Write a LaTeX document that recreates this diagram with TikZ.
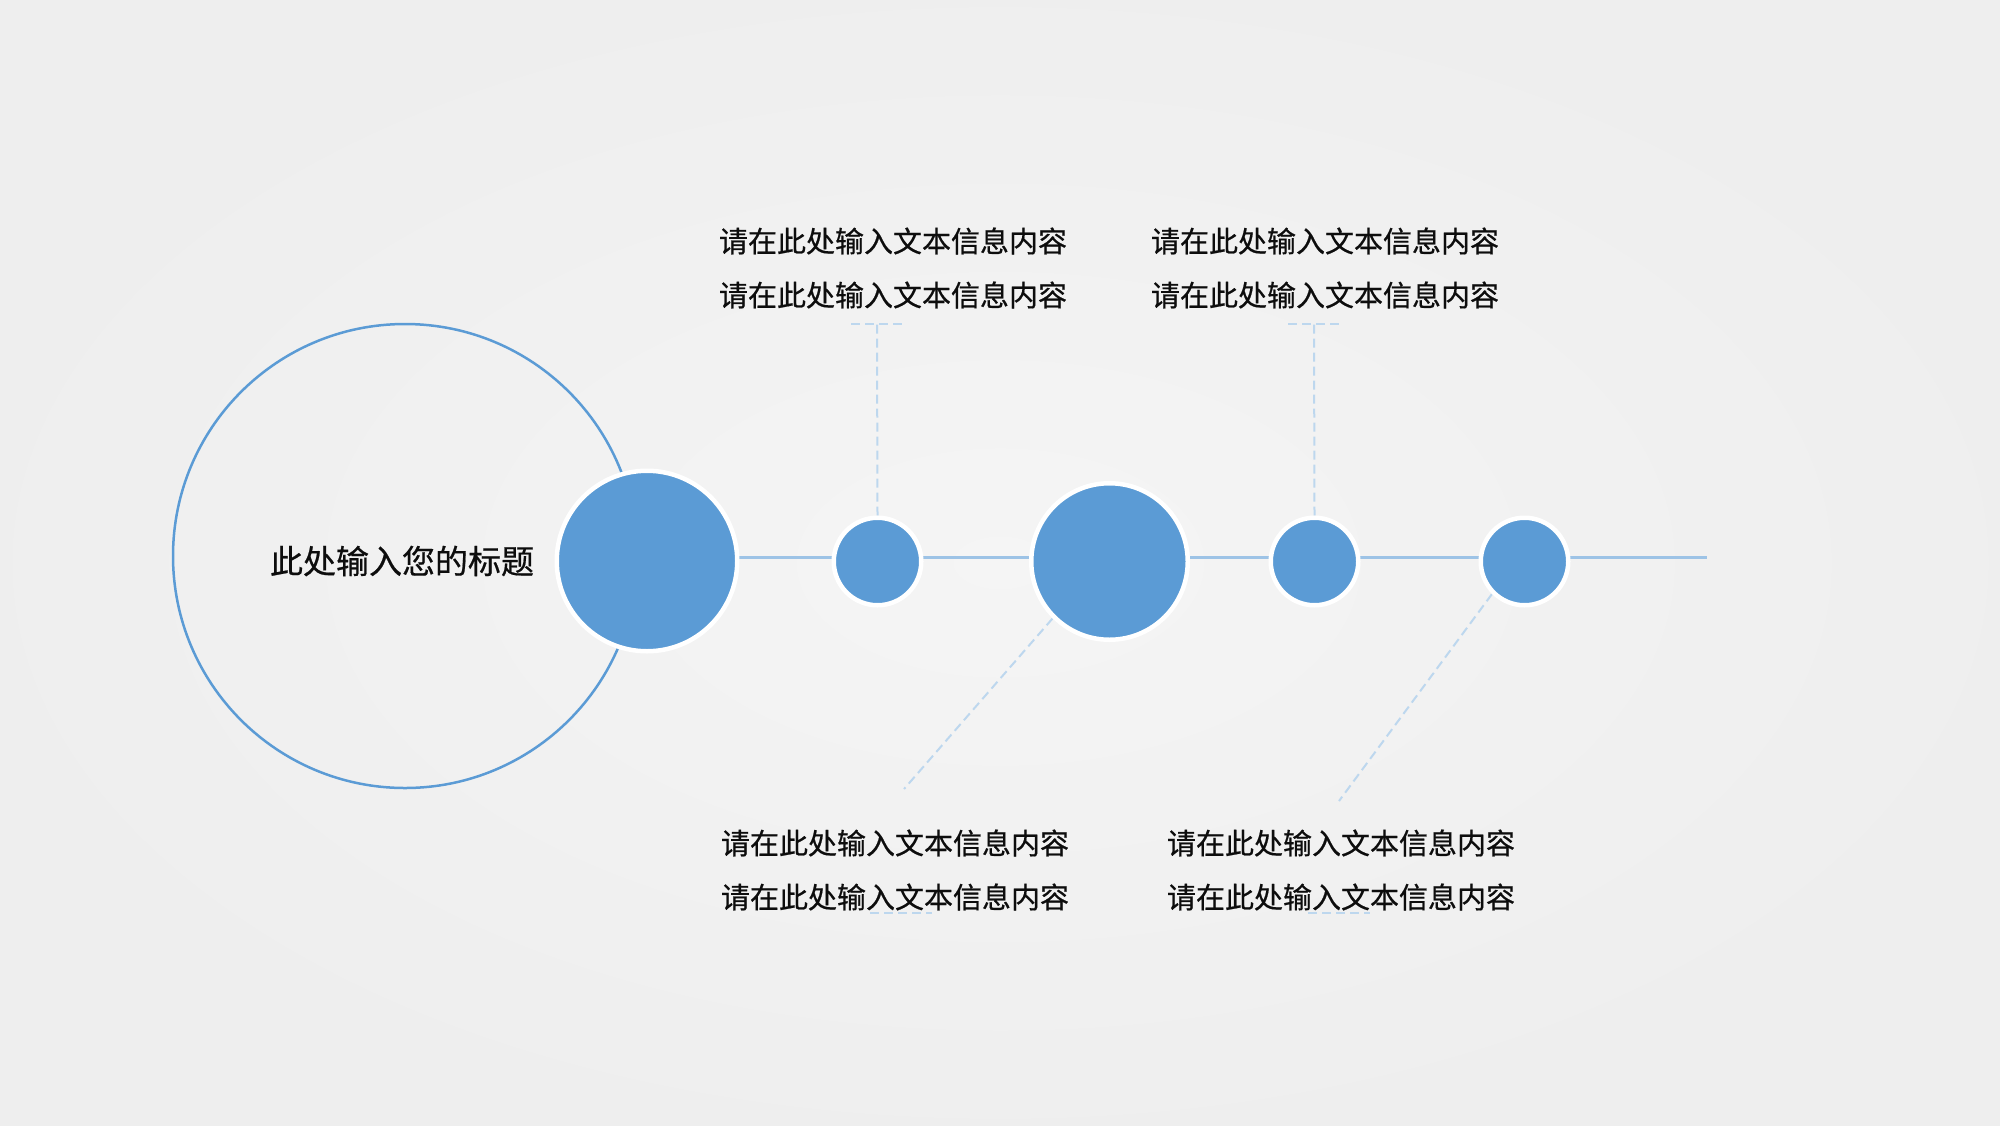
\documentclass[tikz,border=0pt]{standalone}
\usepackage{fontspec}
\newfontfamily\cjk[FakeBold=0.6]{Noto Sans CJK SC}

\definecolor{dotblue}{HTML}{5B9BD5}
\definecolor{axisblue}{HTML}{9DC3E6}
\definecolor{dashblue}{HTML}{BDD7EE}

\pgfdeclarelayer{back}
\pgfdeclarelayer{links}
\pgfsetlayers{back,links,main}

\tikzset{
  dot/.style={circle, fill=dotblue, draw=white, line width=4.5pt, inner sep=0pt},
  note/.style={font=\cjk\fontsize{29pt}{54pt}\selectfont, align=center, text=black!95, inner sep=0pt},
  axis/.style={draw=axisblue, line width=3pt},
  leader/.style={draw=dashblue, line width=2pt, dash pattern=on 9pt off 5pt},
}

\begin{document}
\begin{tikzpicture}[x=1pt, y=-1pt]
    \useasboundingbox (0,0) rectangle (2000,1125);
    \begin{pgfonlayer}{back}
        \shade[inner color=black!4, outer color=black!6.5] (0,0) rectangle (2000,1125);
    \end{pgfonlayer}

    % title ring
    \node[circle, draw=dotblue, line width=2.5pt, minimum size=464pt, inner sep=0pt] (hub) at (405,556) {};
    \node[font=\cjk\fontsize{33pt}{40pt}\selectfont, text=black!95] (title) at (402,561) {此处输入您的标题};

    % dots on the line
    \node[dot, minimum size=180.5pt] (d1) at (647,561) {};
    \node[dot, minimum size=87.5pt] (d2) at (877.5,561.5) {};
    \node[dot, minimum size=156.5pt] (d3) at (1109.5,561.5) {};
    \node[dot, minimum size=87.5pt] (d4) at (1314.5,561.5) {};
    \node[dot, minimum size=87.5pt] (d5) at (1524.5,561.5) {};

    \node[note] (n1) at (893,268) {请在此处输入文本信息内容\\请在此处输入文本信息内容};
    \node[note] (n2) at (1325,268) {请在此处输入文本信息内容\\请在此处输入文本信息内容};
    \node[note] (n3) at (895,870) {请在此处输入文本信息内容\\请在此处输入文本信息内容};
    \node[note] (n4) at (1341,870) {请在此处输入文本信息内容\\请在此处输入文本信息内容};

    \coordinate (axisend) at (1707,557);
    \coordinate (e2) at (877,324);
    \coordinate (e4) at (1314,324);
    \coordinate (e3) at (904,789);
    \coordinate (e5) at (1339,801);
    \coordinate (u3) at (901,913);
    \coordinate (u4) at (1339,913);

    \begin{pgfonlayer}{links}
        \draw[axis] (d1.center |- axisend) -- (axisend);
        \draw[leader] (d2.north) -- (e2);
        \draw[leader] ([xshift=-26pt]e2) -- ([xshift=27pt]e2);
        \draw[leader] (d4.north) -- (e4);
        \draw[leader] ([xshift=-26pt]e4) -- ([xshift=27pt]e4);
        \draw[leader] (d3.225) -- (e3);
        \draw[leader] ([xshift=-31pt]u3) -- ([xshift=31pt]u3);
        \draw[leader] (d5.225) -- (e5);
        \draw[leader] ([xshift=-31pt]u4) -- ([xshift=31pt]u4);
    \end{pgfonlayer}
\end{tikzpicture}
\end{document}
